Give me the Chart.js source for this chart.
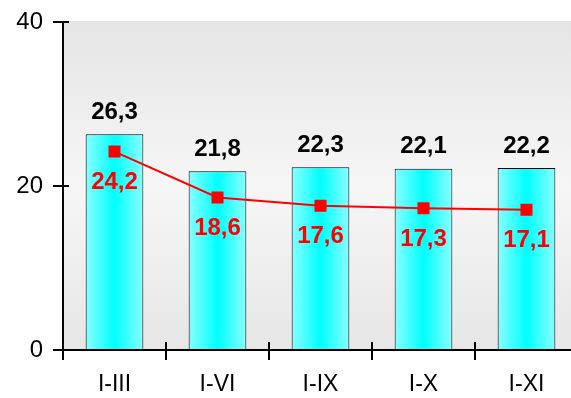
<!DOCTYPE html>
<html lang="es">
<head>
    <meta charset="UTF-8">
    <title>Chart</title>
    <script src="https://cdn.jsdelivr.net/npm/chart.js"></script>
    <style>
        html, body { margin: 0; padding: 0; background: #fff; overflow: hidden; }
        #wrap { width: 590px; height: 398px; }
    </style>
</head>
<body>
    <div id="wrap">
        <canvas id="chart" width="590" height="398"></canvas>
    </div>

    <script>
        const categories = ['I-III', 'I-VI', 'I-IX', 'I-X', 'I-XI'];
        const barValues = [26.3, 21.8, 22.3, 22.1, 22.2];
        const lineValues = [24.2, 18.6, 17.6, 17.3, 17.1];
        const yTicks = [0, 20, 40];

        const FONT = '"Liberation Sans", Arial, sans-serif';

        function fmt(v) {
            return v.toFixed(1).replace('.', ',');
        }

        // plot background: soft gray vertical gradient
        const plotBackground = {
            id: 'plotBackground',
            beforeDraw(chart) {
                const { ctx, chartArea: a } = chart;
                const g = ctx.createLinearGradient(0, a.top, 0, a.bottom);
                g.addColorStop(0, '#e5e5e5');
                g.addColorStop(0.5, '#f6f6f6');
                g.addColorStop(1, '#e6e6e6');
                ctx.save();
                ctx.fillStyle = g;
                ctx.fillRect(a.left, a.top - 1, a.right - a.left, a.bottom - a.top + 1);
                ctx.restore();
            }
        };

        // short tick stubs on the inner side of the axes
        const innerTicks = {
            id: 'innerTicks',
            afterDraw(chart) {
                const { ctx, chartArea: a, scales } = chart;
                const catW = (a.right - a.left) / categories.length;
                ctx.save();
                ctx.strokeStyle = '#000';
                ctx.lineWidth = 2;
                ctx.beginPath();
                yTicks.forEach(t => {
                    const y = scales.y.getPixelForValue(t);
                    ctx.moveTo(a.left, y);
                    ctx.lineTo(a.left + 6, y);
                });
                for (let i = 1; i <= categories.length; i++) {
                    const x = a.left + i * catW;
                    ctx.moveTo(x, a.bottom);
                    ctx.lineTo(x, a.bottom - 8);
                }
                ctx.stroke();
                ctx.restore();
            }
        };

        // value labels: black above bars, red below line points
        const valueLabels = {
            id: 'valueLabels',
            afterDatasetsDraw(chart) {
                const { ctx } = chart;
                ctx.save();
                ctx.textAlign = 'center';
                ctx.textBaseline = 'middle';
                ctx.font = 'bold 24px ' + FONT;
                ctx.fillStyle = '#000';
                chart.getDatasetMeta(0).data.forEach((bar, i) => {
                    ctx.fillText(fmt(barValues[i]), bar.x, bar.y - 22);
                });
                ctx.fillStyle = '#ff0000';
                chart.getDatasetMeta(1).data.forEach((pt, i) => {
                    ctx.fillText(fmt(lineValues[i]), pt.x, pt.y + 31);
                });
                ctx.restore();
            }
        };

        function barGradient(context) {
            const chart = context.chart;
            const a = chart.chartArea;
            if (!a) return '#40ffff';
            const catW = (a.right - a.left) / categories.length;
            const w = catW * 0.56;
            const cx = chart.scales.x.getPixelForValue(context.dataIndex);
            const g = chart.ctx.createLinearGradient(cx - w / 2, 0, cx + w / 2, 0);
            g.addColorStop(0, '#8affff');
            g.addColorStop(0.5, '#00ffff');
            g.addColorStop(1, '#8affff');
            return g;
        }

        new Chart(document.getElementById('chart'), {
            type: 'bar',
            data: {
                labels: categories,
                datasets: [
                    {
                        type: 'bar',
                        data: barValues,
                        backgroundColor: barGradient,
                        borderColor: '#000',
                        borderWidth: 1,
                        categoryPercentage: 1,
                        barPercentage: 0.56,
                        order: 1
                    },
                    {
                        type: 'line',
                        data: lineValues,
                        borderColor: '#ff0000',
                        borderWidth: 2,
                        pointStyle: 'rect',
                        pointRadius: 8.5,
                        pointBackgroundColor: '#ff0000',
                        pointBorderColor: '#ff0000',
                        pointBorderWidth: 0,
                        tension: 0,
                        order: 0
                    }
                ]
            },
            options: {
                responsive: false,
                animation: false,
                devicePixelRatio: 1,
                layout: { padding: { top: 22, right: 12, left: 0, bottom: 0 } },
                plugins: {
                    legend: { display: false },
                    tooltip: { enabled: false }
                },
                scales: {
                    x: {
                        offset: true,
                        grid: {
                            offset: true,
                            drawOnChartArea: false,
                            drawTicks: true,
                            tickLength: 10,
                            color: '#000',
                            lineWidth: 2
                        },
                        border: { display: true, color: '#000', width: 2 },
                        ticks: {
                            color: '#000',
                            font: { family: FONT, size: 23 },
                            padding: 11,
                            maxRotation: 0
                        },
                        afterFit(scale) { scale.height = 48; }
                    },
                    y: {
                        min: 0,
                        max: 40,
                        afterBuildTicks(scale) {
                            scale.ticks = yTicks.map(v => ({ value: v }));
                        },
                        grid: {
                            drawOnChartArea: false,
                            drawTicks: true,
                            tickLength: 10,
                            color: '#000',
                            lineWidth: 2
                        },
                        border: { display: true, color: '#000', width: 2 },
                        ticks: {
                            color: '#000',
                            font: { family: FONT, size: 24 },
                            padding: 10
                        },
                        afterFit(scale) {
                            scale.width = 63;
                            scale.paddingTop = 0;
                            scale.paddingBottom = 0;
                        }
                    }
                }
            },
            plugins: [plotBackground, innerTicks, valueLabels]
        });
    </script>
</body>
</html>
